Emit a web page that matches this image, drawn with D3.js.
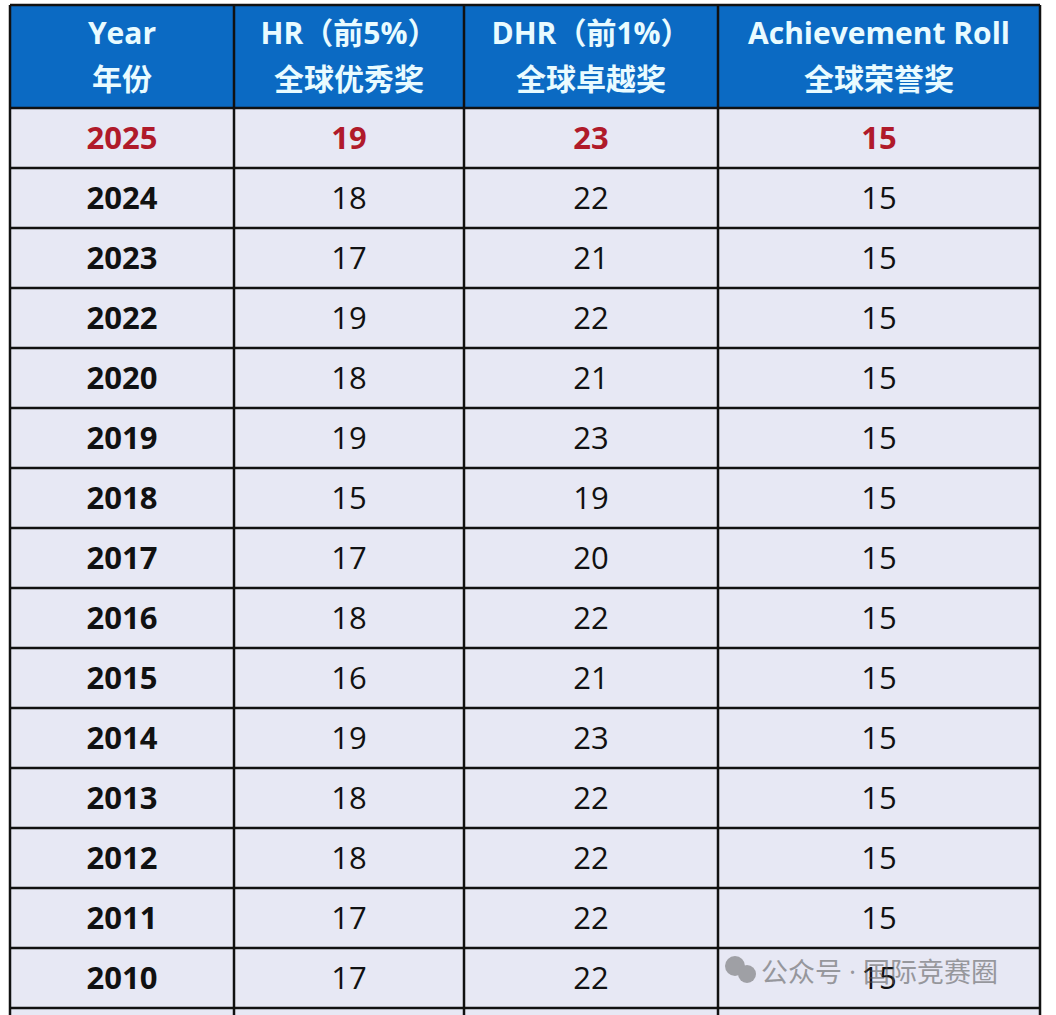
<!DOCTYPE html>
<html><head><meta charset="utf-8">
<script src="https://cdn.jsdelivr.net/npm/d3@7"></script>
<style>body{margin:0;background:#fff}</style>
</head><body>
<svg id="chart" width="1056" height="1015"></svg>
<script>
const headers = [["Year", "年份"], ["HR（前5%）", "全球优秀奖"], ["DHR（前1%）", "全球卓越奖"], ["Achievement Roll", "全球荣誉奖"]]
const years = ["2025", "2024", "2023", "2022", "2020", "2019", "2018", "2017", "2016", "2015", "2014", "2013", "2012", "2011", "2010"]
const hr = [19, 18, 17, 19, 18, 19, 15, 17, 18, 16, 19, 18, 18, 17, 17]
const dhr = [23, 22, 21, 22, 21, 23, 19, 20, 22, 21, 23, 22, 22, 22, 22]
const roll = [15, 15, 15, 15, 15, 15, 15, 15, 15, 15, 15, 15, 15, 15, 15]

const svg = d3.select('#chart')
const font = '"Open Sans", "Noto Sans CJK SC", sans-serif'
const colEdges = [10, 234, 464, 718, 1040]
const headTop = 5, headBottom = 108, rowH = 60

const rows = years.map((y, i) => [y, hr[i], dhr[i], roll[i]])
// one extra empty row peeks in at the bottom
const y = d3.scaleBand().domain(d3.range(rows.length + 1)).range([headBottom, headBottom + rowH * (rows.length + 1)])

// header
svg.append('rect')
    .attr('x', colEdges[0]).attr('y', headTop)
    .attr('width', colEdges[4] - colEdges[0]).attr('height', headBottom - headTop)
    .attr('fill', '#0b6ac3')

headers.forEach((h, c) => {
    const cx = (colEdges[c] + colEdges[c + 1]) / 2
    h.forEach((t, k) => {
        svg.append('text')
            .attr('x', cx).attr('y', 44 + k * 46)
            .attr('text-anchor', 'middle')
            .attr('font-family', font).attr('font-weight', 'bold').attr('font-size', 30)
            .attr('fill', '#e9fbff')
            .text(t)
    })
})

// body background
svg.append('rect')
    .attr('x', colEdges[0]).attr('y', headBottom)
    .attr('width', colEdges[4] - colEdges[0]).attr('height', 1015 - headBottom)
    .attr('fill', '#e7e8f4')

// cells
const row = svg.selectAll('g.row').data(rows).join('g')
    .attr('class', 'row')
    .attr('transform', (d, i) => `translate(0,${y(i)})`)

row.selectAll('text').data((d, i) => d.map(v => ({ v, first: i === 0 }))).join('text')
    .attr('x', (d, c) => (colEdges[c] + colEdges[c + 1]) / 2)
    .attr('y', rowH / 2 + 11)
    .attr('text-anchor', 'middle')
    .attr('font-family', font).attr('font-size', 31)
    .attr('font-weight', (d, c) => (c === 0 || d.first) ? 'bold' : 'normal')
    .attr('fill', d => d.first ? '#b01a2a' : '#111')
    .text(d => d.v)

// grid lines
const grid = svg.append('g').attr('stroke', '#111').attr('stroke-width', 2.5)
colEdges.forEach(x => grid.append('line').attr('x1', x).attr('x2', x).attr('y1', headTop).attr('y2', 1015))
grid.append('line').attr('x1', colEdges[0]).attr('x2', colEdges[4]).attr('y1', headTop).attr('y2', headTop)
d3.range(rows.length + 1).forEach(i => grid.append('line')
    .attr('x1', colEdges[0]).attr('x2', colEdges[4]).attr('y1', y(i)).attr('y2', y(i)))

// watermark
const wm = svg.append('g').attr('transform', 'translate(725,972)').attr('opacity', 0.55)
wm.append('circle').attr('cx', 10).attr('cy', -6).attr('r', 10).attr('fill', '#666')
wm.append('circle').attr('cx', 22).attr('cy', 2).attr('r', 9).attr('fill', '#666')
wm.append('text').attr('x', 36).attr('y', 10)
    .attr('font-family', font).attr('font-size', 27).attr('fill', '#555')
    .text('公众号 · 国际竞赛圈')
</script>
</body></html>
